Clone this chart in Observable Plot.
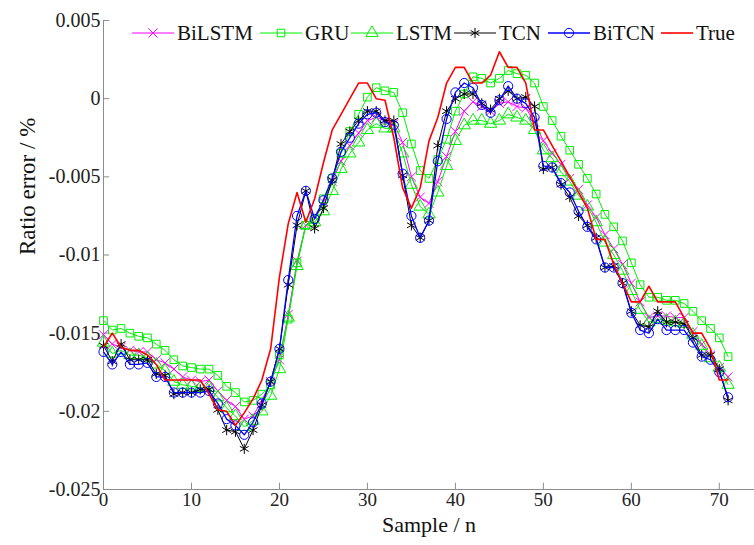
<!DOCTYPE html>
<html><head><meta charset="utf-8">
<script src="https://cdn.jsdelivr.net/npm/d3@7"></script>
<script src="https://cdn.jsdelivr.net/npm/@observablehq/plot@0.6"></script>
<style>
body{margin:0;background:#fff;}
#wrap{position:relative;width:754px;height:545px;font-family:"Liberation Serif","Times New Roman",Times,"DejaVu Serif",serif;}
#legend{position:absolute;left:0;top:0;width:754px;height:60px;pointer-events:none;}
.item{position:absolute;top:22px;height:22px;display:flex;align-items:center;font-size:21px;color:#111;}
.item svg{display:block;}
svg text{font-family:"Liberation Serif","Times New Roman",Times,"DejaVu Serif",serif;}
</style></head><body><div id="wrap"><div id="chart"></div><div id="legend"></div></div>
<script>
const xTicks = [0,10,20,30,40,50,60,70];
const xTickLabels = ["0","10","20","30","40","50","60","70"];
const yTicks = [0.005,0,-0.005,-0.01,-0.015,-0.02,-0.025];
const yTickLabels = ["0.005","0","-0.005","-0.01","-0.015","-0.02","-0.025"];
const samples = [0,1,2,3,4,5,6,7,8,9,10,11,12,13,14,15,16,17,18,19,20,21,22,23,24,25,26,27,28,29,30,31,32,33,34,35,36,37,38,39,40,41,42,43,44,45,46,47,48,49,50,51,52,53,54,55,56,57,58,59,60,61,62,63,64,65,66,67,68,69,70,71];

const bilstm = [-0.0151,-0.0157,-0.0159,-0.0161,-0.0162,-0.0162,-0.0167,-0.0169,-0.0173,-0.0178,-0.0180,-0.0181,-0.0180,-0.0187,-0.0193,-0.0197,-0.0205,-0.0203,-0.0193,-0.0181,
-0.0167,-0.0138,-0.0104,-0.0081,-0.0075,-0.0066,-0.0053,-0.0040,-0.0030,-0.0022,-0.0014,-0.0012,-0.0014,-0.0016,-0.0028,-0.0050,-0.0063,-0.0067,-0.0053,-0.0037,
-0.0021,-0.0008,-0.0002,-0.0005,-0.0008,-0.0003,-0.0002,-0.0005,-0.0006,-0.0015,-0.0027,-0.0035,-0.0042,-0.0051,-0.0058,-0.0068,-0.0076,-0.0087,-0.0096,-0.0106,
-0.0118,-0.0130,-0.0140,-0.0139,-0.0139,-0.0140,-0.0140,-0.0149,-0.0157,-0.0164,-0.0172,-0.0178];
const gru = [-0.0142,-0.0148,-0.0147,-0.0150,-0.0152,-0.0153,-0.0157,-0.0161,-0.0167,-0.0171,-0.0172,-0.0173,-0.0173,-0.0177,-0.0184,-0.0188,-0.0194,-0.0193,-0.0189,-0.0183,
-0.0164,-0.0141,-0.0105,-0.0081,-0.0077,-0.0064,-0.0051,-0.0035,-0.0021,-0.0010,0.0001,0.0007,0.0005,0.0004,-0.0009,-0.0029,-0.0046,-0.0051,-0.0039,-0.0026,
-0.0008,0.0003,0.0014,0.0013,0.0010,0.0013,0.0018,0.0016,0.0015,0.0010,-0.0005,-0.0014,-0.0024,-0.0033,-0.0042,-0.0051,-0.0061,-0.0074,-0.0082,-0.0091,
-0.0105,-0.0119,-0.0127,-0.0127,-0.0129,-0.0129,-0.0131,-0.0136,-0.0142,-0.0147,-0.0153,-0.0165];
const lstm = [-0.0156,-0.0163,-0.0161,-0.0164,-0.0164,-0.0166,-0.0170,-0.0174,-0.0181,-0.0183,-0.0184,-0.0185,-0.0185,-0.0191,-0.0198,-0.0203,-0.0210,-0.0206,-0.0200,-0.0190,
-0.0173,-0.0140,-0.0107,-0.0081,-0.0079,-0.0072,-0.0059,-0.0045,-0.0035,-0.0028,-0.0020,-0.0016,-0.0019,-0.0019,-0.0035,-0.0055,-0.0069,-0.0074,-0.0060,-0.0043,
-0.0027,-0.0017,-0.0014,-0.0014,-0.0016,-0.0014,-0.0010,-0.0012,-0.0014,-0.0020,-0.0033,-0.0038,-0.0047,-0.0053,-0.0062,-0.0069,-0.0079,-0.0092,-0.0100,-0.0110,
-0.0123,-0.0135,-0.0143,-0.0141,-0.0142,-0.0143,-0.0144,-0.0151,-0.0158,-0.0166,-0.0172,-0.0183];
const tcn = [-0.0158,-0.0168,-0.0157,-0.0167,-0.0167,-0.0167,-0.0176,-0.0177,-0.0189,-0.0188,-0.0188,-0.0186,-0.0186,-0.0199,-0.0212,-0.0213,-0.0224,-0.0212,-0.0196,-0.0181,
-0.0160,-0.0119,-0.0081,-0.0059,-0.0083,-0.0070,-0.0052,-0.0029,-0.0021,-0.0014,-0.0008,-0.0008,-0.0014,-0.0014,-0.0049,-0.0081,-0.0089,-0.0078,-0.0030,-0.0008,
0.0000,0.0003,0.0003,-0.0003,-0.0007,0.0000,0.0005,0.0000,0.0001,-0.0005,-0.0045,-0.0044,-0.0055,-0.0063,-0.0075,-0.0081,-0.0089,-0.0108,-0.0107,-0.0118,
-0.0136,-0.0145,-0.0146,-0.0136,-0.0143,-0.0143,-0.0144,-0.0153,-0.0164,-0.0164,-0.0173,-0.0193];
const bitcn = [-0.0162,-0.0170,-0.0162,-0.0170,-0.0170,-0.0169,-0.0178,-0.0178,-0.0188,-0.0188,-0.0188,-0.0188,-0.0187,-0.0195,-0.0205,-0.0209,-0.0215,-0.0207,-0.0195,-0.0181,
-0.0160,-0.0116,-0.0075,-0.0059,-0.0077,-0.0065,-0.0051,-0.0034,-0.0025,-0.0016,-0.0010,-0.0009,-0.0015,-0.0017,-0.0048,-0.0075,-0.0089,-0.0078,-0.0040,-0.0013,
0.0004,0.0010,0.0007,-0.0004,-0.0009,-0.0001,0.0008,0.0000,-0.0003,-0.0012,-0.0043,-0.0044,-0.0054,-0.0060,-0.0072,-0.0082,-0.0090,-0.0108,-0.0108,-0.0118,
-0.0137,-0.0148,-0.0150,-0.0141,-0.0148,-0.0148,-0.0148,-0.0156,-0.0165,-0.0167,-0.0175,-0.0191];
const trueVals = [-0.0159,-0.0150,-0.0159,-0.0161,-0.0161,-0.0164,-0.0170,-0.0180,-0.0180,-0.0180,-0.0180,-0.0180,-0.0189,-0.0199,-0.0200,-0.0209,-0.0201,-0.0192,-0.0180,-0.0160,
-0.0114,-0.0080,-0.0060,-0.0079,-0.0064,-0.0041,-0.0020,-0.0010,0.0000,0.0010,0.0010,0.0000,-0.0001,-0.0025,-0.0057,-0.0070,-0.0057,-0.0027,-0.0012,0.0010,
0.0020,0.0020,0.0010,0.0010,0.0015,0.0030,0.0020,0.0020,0.0010,-0.0020,-0.0020,-0.0030,-0.0040,-0.0050,-0.0060,-0.0070,-0.0090,-0.0090,-0.0106,-0.0118,
-0.0130,-0.0130,-0.0120,-0.0130,-0.0130,-0.0130,-0.0140,-0.0150,-0.0150,-0.0160,-0.0180,-0.0180];

const seriesNames = ["BiLSTM","GRU","LSTM","TCN","BiTCN","True"];
const seriesValues = [bilstm,gru,lstm,tcn,bitcn,trueVals];
const seriesColors = ["#ff00ff","#00ee00","#00ee00","#000000","#0000ff","#ff0000"];
const seriesSymbols = ["times","square","triangle","asterisk","circle",null];
const seriesWidths = [1,1,1,1,1.3,1.6];
const seriesR = [4.2,4.3,4.6,4.8,4.6,0];

const FONT = "'Liberation Serif','Times New Roman',Times,'DejaVu Serif',serif";
const tables = seriesValues.map((vals,k)=>samples.map((s,i)=>({x:s,y:vals[i],series:seriesNames[k]})));

const marks = [
  Plot.ruleX([0],{stroke:"#8c8c8c",strokeWidth:1}),
  Plot.ruleY([-0.025],{stroke:"#8c8c8c",strokeWidth:1}),
  Plot.ruleX(xTicks,{x:d=>d,y1:-0.025,y2:-0.025+0.0004,stroke:"#8c8c8c"}),
  Plot.ruleY(yTicks,{y:d=>d,x1:0,x2:0.7,stroke:"#8c8c8c"}),
  Plot.axisX({ticks:xTicks,tickSize:0,tickPadding:3,tickFormat:d=>xTickLabels[xTicks.indexOf(d)],label:null,fontSize:19,fill:"#222",fontFamily:FONT}),
  Plot.axisY({ticks:yTicks,tickSize:0,tickPadding:3,tickFormat:d=>yTickLabels[yTicks.indexOf(d)],label:null,fontSize:20,fill:"#222",fontFamily:FONT}),
  Plot.text(["Sample / n"],{frameAnchor:"bottom",dy:42,fontSize:22,fill:"#111",fontFamily:FONT}),
  Plot.text(["Ratio error / %"],{frameAnchor:"left",dx:-76,rotate:-90,fontSize:23,fill:"#111",fontFamily:FONT})
];
seriesValues.forEach((vals,k)=>{
  marks.push(Plot.line(tables[k],{x:"x",y:"y",stroke:seriesColors[k],strokeWidth:seriesWidths[k]}));
  if (seriesSymbols[k]) marks.push(Plot.dot(tables[k],{x:"x",y:"y",symbol:seriesSymbols[k],r:seriesR[k],stroke:seriesColors[k],fill:"none",strokeWidth:1}));
});

const chart = Plot.plot({
  width:754,height:545,
  marginLeft:103,marginRight:0,marginTop:20,marginBottom:56,
  x:{domain:[0,74]},
  y:{domain:[-0.025,0.005]},
  style:{fontFamily:FONT,background:"#fff",overflow:"visible"},
  marks
});
document.getElementById("chart").appendChild(chart);

// legend
const legendLeft = [132,260,351,454,548,661];
const lg = document.getElementById("legend");
seriesNames.forEach((name,k)=>{
  const div = document.createElement("div");
  div.className = "item";
  div.style.left = legendLeft[k]+"px";
  const w = k===5 ? 32 : 42;
  const svg = d3.create("svg").attr("width",w+2).attr("height",22);
  svg.append("line").attr("x1",0).attr("x2",w).attr("y1",11).attr("y2",11).attr("stroke",seriesColors[k]).attr("stroke-width",seriesWidths[k]);
  if (seriesSymbols[k]) {
    const symMap = {times:d3.symbolTimes,square:d3.symbolSquare,triangle:d3.symbolTriangle,asterisk:d3.symbolAsterisk,circle:d3.symbolCircle};
    const r = seriesR[k];
    svg.append("path").attr("d",d3.symbol(symMap[seriesSymbols[k]], Math.PI*r*r)()).attr("transform",`translate(${w/2},11)`).attr("fill","none").attr("stroke",seriesColors[k]).attr("stroke-width",1);
  }
  div.appendChild(svg.node());
  const span = document.createElement("span");
  span.textContent = name;
  span.style.marginLeft = "1px";
  div.appendChild(span);
  lg.appendChild(div);
});
</script></body></html>
